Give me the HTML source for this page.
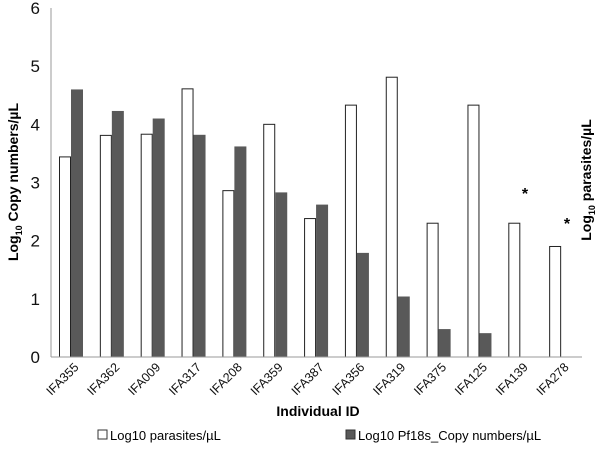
<!DOCTYPE html>
<html><head><meta charset="utf-8"><style>
body{margin:0;background:#fff;width:600px;height:448px;overflow:hidden;font-family:"Liberation Sans",sans-serif}
</style></head><body>
<svg id="chart" width="600" height="448" font-family="Liberation Sans, sans-serif">
<g id="marks"></g>
<line x1="51" y1="8" x2="51" y2="357" stroke="#999"/>
<line x1="51" y1="357" x2="582" y2="357" stroke="#999"/>
<g id="yticks" font-size="17" fill="#111" text-anchor="end"></g>
<g id="xticks" font-size="12.5" fill="#111"></g>
<text x="0" y="0" transform="translate(18,182) rotate(-90)" text-anchor="middle" font-size="14" font-weight="bold">Log<tspan font-size="9" dy="4">10</tspan><tspan dy="-4"> Copy numbers/µL</tspan></text>
<text x="0" y="0" transform="translate(591,180) rotate(-90)" text-anchor="middle" font-size="14" font-weight="bold">Log<tspan font-size="9" dy="4">10</tspan><tspan dy="-4">  parasites/µL</tspan></text>
<text x="318" y="416" text-anchor="middle" font-size="14" font-weight="bold">Individual ID</text>
<text x="525" y="199" text-anchor="middle" font-size="16" font-weight="bold">*</text>
<text x="567" y="229" text-anchor="middle" font-size="16" font-weight="bold">*</text>
<g font-size="13">
<rect x="98" y="430" width="9" height="9" fill="#fff" stroke="#333"/>
<text x="110" y="440">Log10  parasites/µL</text>
<rect x="346" y="430" width="9" height="9" fill="#595959" stroke="#333"/>
<text x="358" y="440">Log10 Pf18s_Copy numbers/µL</text>
</g>
</svg>
<script>
const categories=["IFA355","IFA362","IFA009","IFA317","IFA208","IFA359","IFA387","IFA356","IFA319","IFA375","IFA125","IFA139","IFA278"];
const parasites=[3.44,3.81,3.83,4.61,2.86,4.0,2.38,4.33,4.81,2.3,4.33,2.3,1.9];
const copies=[4.6,4.23,4.1,3.82,3.62,2.83,2.62,1.79,1.04,0.48,0.41,null,null];
const yTicks=[0,1,2,3,4,5,6];
const ns="http://www.w3.org/2000/svg";
const x0=51,x1=582,yB=357,yT=8,yMax=6;
const gw=(x1-x0)/categories.length;
function y(v){return yB-(v/yMax)*(yB-yT);}
function gx(i){return x0+i*gw;}
const marks=document.getElementById('marks');
categories.forEach((c,i)=>{
  const p=parasites[i];
  if(p!=null){const r=document.createElementNS(ns,'rect');
  r.setAttribute('x',gx(i)+8.5);r.setAttribute('y',y(p));r.setAttribute('width',11);r.setAttribute('height',yB-y(p));
  r.setAttribute('fill','#fff');r.setAttribute('stroke','#222');r.setAttribute('stroke-width','1');
  
  
  marks.appendChild(r);}
  const q=copies[i];
  if(q!=null){const r=document.createElementNS(ns,'rect');
  r.setAttribute('x',gx(i)+20);r.setAttribute('y',y(q));r.setAttribute('width',12);r.setAttribute('height',yB-y(q));
  r.setAttribute('fill','#595959');
  
  
  marks.appendChild(r);}
  const t=document.createElementNS(ns,'text');
  const tx=gx(i)+gw/2+8,ty=368;
  t.setAttribute('transform','translate('+tx+','+ty+') rotate(-45)');
  t.setAttribute('text-anchor','end');t.textContent=c;
  
  
  document.getElementById('xticks').appendChild(t);
});
yTicks.forEach(v=>{
  const t=document.createElementNS(ns,'text');
  t.setAttribute('x',40);t.setAttribute('y',y(v)+6);t.textContent=v;
  
  
  document.getElementById('yticks').appendChild(t);
});
</script>
</body></html>
